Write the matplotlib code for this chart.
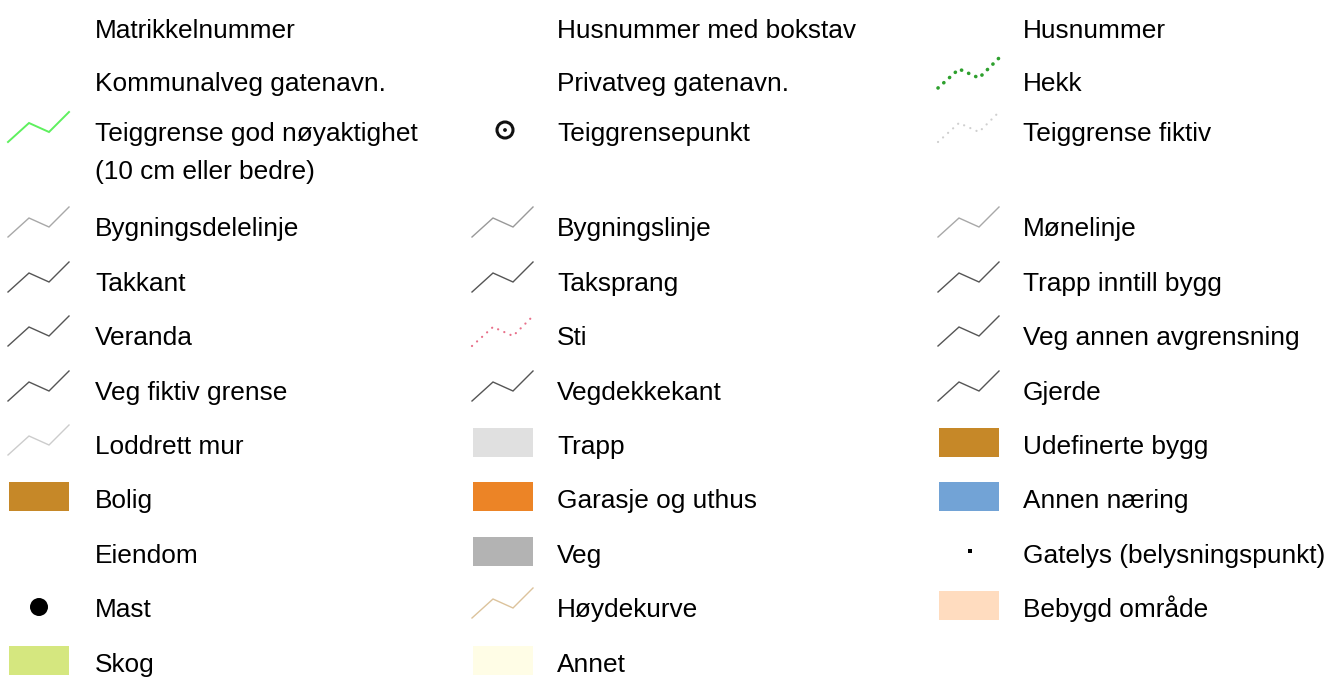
import matplotlib.pyplot as plt
from matplotlib.patches import Rectangle, Circle

plt.rcParams['font.family'] = ['Liberation Sans', 'DejaVu Sans']

# Legend entries per column: label, symbol kind, colour
col1_labels = ["Matrikkelnummer", "Kommunalveg gatenavn.",
               "Teiggrense god nøyaktighet\n(10 cm eller bedre)",
               "Bygningsdelelinje", "Takkant", "Veranda", "Veg fiktiv grense",
               "Loddrett mur", "Bolig", "Eiendom", "Mast", "Skog"]
col1_kinds = [None, None, "line", "line", "line", "line", "line", "line",
              "rect", None, "dot", "rect"]
col1_colors = [None, None, "#5ef05e", "#a8a8a8", "#555555", "#555555", "#555555",
               "#cccccc", "#c68828", None, "#000000", "#d5e77f"]

col2_labels = ["Husnummer med bokstav", "Privatveg gatenavn.", "Teiggrensepunkt",
               "Bygningslinje", "Taksprang", "Sti", "Vegdekkekant", "Trapp",
               "Garasje og uthus", "Veg", "Høydekurve", "Annet"]
col2_kinds = [None, None, "ring", "line", "line", "dots_small", "line", "rect",
              "rect", "rect", "line", "rect"]
col2_colors = [None, None, "#111111", "#999999", "#555555", "#e8708a", "#555555",
               "#e0e0e0", "#ec8426", "#b3b3b3", "#dcc39c", "#fffde6"]

col3_labels = ["Husnummer", "Hekk", "Teiggrense fiktiv", "Mønelinje",
               "Trapp inntill bygg", "Veg annen avgrensning", "Gjerde",
               "Udefinerte bygg", "Annen næring", "Gatelys (belysningspunkt)",
               "Bebygd område"]
col3_kinds = [None, "dots", "dots_small", "line", "line", "line", "line",
              "rect", "rect", "square", "rect"]
col3_colors = [None, "#2ea02e", "#cfcfcf", "#a8a8a8", "#555555", "#555555",
               "#555555", "#c68828", "#72a3d6", "#000000", "#ffdcbf"]

# Text baselines of each row (the third row wraps onto a second line)
baselines = [38, 91, 141, 236, 291, 345, 400, 454, 508, 563, 617, 672]
wrap_gap = 38
sym_x = [8, 472, 938]
text_x = [95, 557, 1023]
FS = 18.9

fig = plt.figure(figsize=(13.41, 6.82), dpi=100)
ax = fig.add_axes([0, 0, 1, 1])
ax.set_xlim(0, 1341)
ax.set_ylim(682, 0)
ax.axis('off')


def zigzag(x0, b):
    return [x0, x0 + 21, x0 + 41, x0 + 61], [b, b - 19, b - 10, b - 30]


def draw_symbol(kind, color, x0, b):
    if kind is None:
        return
    if kind == "line":
        xs, ys = zigzag(x0, b + 1)
        lw = 1.4 if color == "#5ef05e" else 1.0
        ax.plot(xs, ys, color=color, lw=lw, solid_joinstyle='miter')
    elif kind == "dots":
        xs, ys = zigzag(x0, b - 3)
        ax.plot(xs, ys, color=color, lw=2.6, dashes=(0.05, 2.1),
                dash_capstyle='round')
    elif kind == "dots_small":
        xs, ys = zigzag(x0, b + 1)
        ax.plot(xs, ys, color=color, lw=1.6, dashes=(0.05, 3.0),
                dash_capstyle='round')
    elif kind == "rect":
        ax.add_patch(Rectangle((x0 + 1, b - 26), 60, 29, facecolor=color,
                               edgecolor='none'))
    elif kind == "dot":
        ax.add_patch(Circle((x0 + 31, b - 10), 9, facecolor=color,
                            edgecolor='none'))
    elif kind == "ring":
        ax.add_patch(Circle((x0 + 33, b - 11), 8, facecolor='none',
                            edgecolor=color, lw=2.2))
        ax.add_patch(Circle((x0 + 33, b - 11), 1.9, facecolor=color,
                            edgecolor='none'))
    elif kind == "square":
        ax.add_patch(Rectangle((x0 + 30, b - 14), 4, 4, facecolor=color,
                               edgecolor='none'))


columns = [(col1_labels, col1_kinds, col1_colors),
           (col2_labels, col2_kinds, col2_colors),
           (col3_labels, col3_kinds, col3_colors)]

for c, (labels, kinds, colors) in enumerate(columns):
    for i, label in enumerate(labels):
        b = baselines[i]
        draw_symbol(kinds[i], colors[i], sym_x[c], b)
        lines = label.split("\n")
        for k, line in enumerate(lines):
            ax.text(text_x[c], b + k * wrap_gap, line, fontsize=FS,
                    va='baseline', ha='left', color='#000000')

fig.savefig("out.png", dpi=100)
